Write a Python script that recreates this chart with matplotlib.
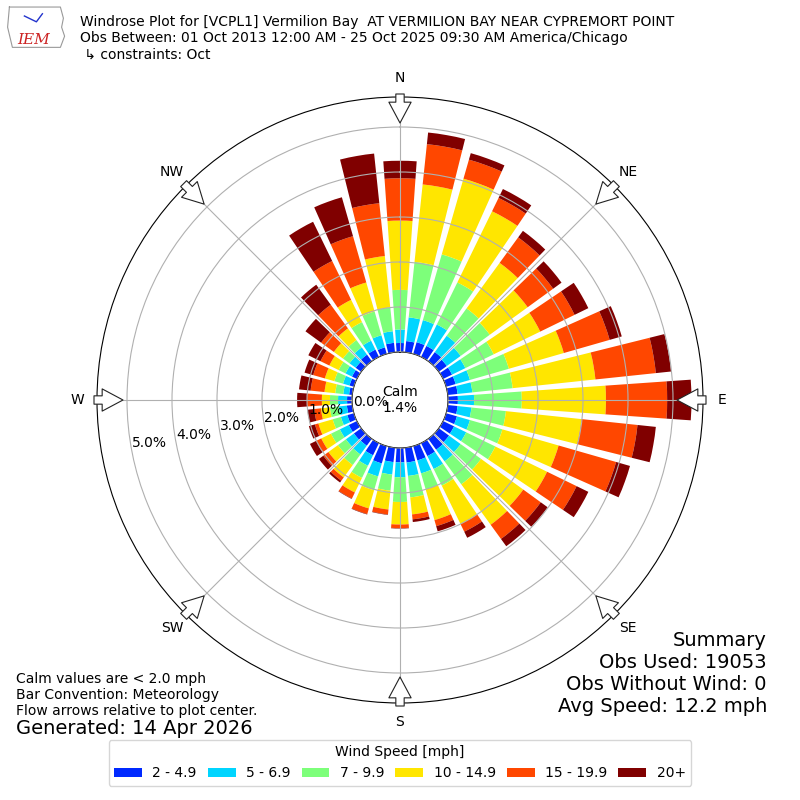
import numpy as np
import matplotlib
matplotlib.use("Agg")
import matplotlib.pyplot as plt

# direction bins (degrees, meteorological, centre of each 10 degree sector)
directions = list(range(0, 360, 10))

# frequency (%) for each speed bin, per direction
spd_2_5 = [0.20, 0.25, 0.27, 0.27, 0.25, 0.22, 0.22, 0.22, 0.22, 0.22,
           0.22, 0.25, 0.27, 0.28, 0.30, 0.32, 0.33, 0.33, 0.32,
           0.32, 0.40, 0.30, 0.19, 0.20, 0.20, 0.15, 0.12, 0.11,
           0.07, 0.10, 0.12, 0.15, 0.18, 0.18, 0.15, 0.21]
spd_5_7 = [0.30, 0.53, 0.51, 0.53, 0.45, 0.38, 0.33, 0.33, 0.33, 0.36,
           0.31, 0.30, 0.30, 0.32, 0.32, 0.32, 0.30, 0.30, 0.33,
           0.28, 0.30, 0.26, 0.24, 0.22, 0.22, 0.15, 0.18, 0.20,
           0.13, 0.15, 0.16, 0.17, 0.20, 0.22, 0.28, 0.26]
spd_7_10 = [0.88, 1.24, 1.52, 1.04, 0.75, 0.80, 0.70, 0.90, 0.90, 1.06,
            0.77, 0.75, 0.72, 0.56, 0.63, 0.41, 0.37, 0.48, 0.55,
            0.36, 0.32, 0.30, 0.29, 0.22, 0.22, 0.19, 0.20, 0.18,
            0.18, 0.20, 0.17, 0.18, 0.20, 0.46, 0.55, 0.53]
spd_10_15 = [1.54, 1.73, 1.75, 1.76, 1.25, 1.04, 1.15, 1.27, 1.85, 1.87,
             1.69, 1.30, 1.28, 1.16, 1.11, 0.95, 0.71, 0.38, 0.50,
             0.42, 0.42, 0.36, 0.34, 0.26, 0.24, 0.33, 0.20, 0.18,
             0.24, 0.22, 0.23, 0.25, 0.32, 0.55, 0.67, 1.15]
spd_15_20 = [0.94, 0.90, 0.44, 0.33, 0.70, 0.70, 0.85, 1.06, 1.35, 1.36,
             1.25, 1.33, 0.73, 0.48, 0.39, 0.19, 0.14, 0.11, 0.08,
             0.11, 0.13, 0.15, 0.09, 0.14, 0.13, 0.08, 0.15, 0.33,
             0.31, 0.27, 0.22, 0.35, 0.65, 0.96, 1.07, 1.18]
spd_20 = [0.39, 0.26, 0.15, 0.22, 0.18, 0.23, 0.34, 0.28, 0.34, 0.54,
          0.41, 0.32, 0.29, 0.19, 0.20, 0.15, 0.12, 0.06, 0.01,
          0.01, 0.01, 0.01, 0.05, 0.12, 0.15, 0.14, 0.15, 0.22,
          0.26, 0.20, 0.30, 0.43, 0.55, 0.97, 0.90, 1.11]

speed_labels = ["2 - 4.9", "5 - 6.9", "7 - 9.9", "10 - 14.9", "15 - 19.9", "20+"]
rticks = [0, 1, 2, 3, 4, 5]
compass = ["N", "NE", "E", "SE", "S", "SW", "W", "NW"]
calm_pct = 1.4

title_lines = [
    "Windrose Plot for [VCPL1] Vermilion Bay  AT VERMILION BAY NEAR CYPREMORT POINT",
    "Obs Between: 01 Oct 2013 12:00 AM - 25 Oct 2025 09:30 AM America/Chicago",
    " \u21b3 constraints: Oct",
]
notes = ["Calm values are < 2.0 mph", "Bar Convention: Meteorology",
         "Flow arrows relative to plot center."]
summary = ["Summary", "Obs Used: 19053", "Obs Without Wind: 0", "Avg Speed: 12.2 mph"]


def add_arrows(ax, rtail, rtip):
    # inward pointing flow arrows at the 8 compass points
    for deg in range(0, 360, 45):
        th = np.radians(deg)
        ax.annotate("", xy=(th, rtip), xytext=(th, rtail),
                    arrowprops=dict(arrowstyle="simple,head_length=0.75,head_width=0.8,tail_width=0.3",
                                    fc="white", ec="#222222", lw=0.8,
                                    shrinkA=0, shrinkB=0, mutation_scale=20),
                    annotation_clip=False, zorder=10)


fig = plt.figure(figsize=(8, 8), dpi=100)
ax = fig.add_axes([0.12125, 0.12125, 0.7575, 0.7575], projection="polar")
ax.set_theta_zero_location("N")
ax.set_theta_direction(-1)

series = [spd_2_5, spd_5_7, spd_7_10, spd_10_15, spd_15_20, spd_20]
colors = plt.get_cmap("jet")(np.linspace(0, 1, len(series) + 1)[1:])
theta = np.radians(directions)
width = np.radians(10) * 0.8

bottom = np.zeros(len(directions))
handles = []
for vals, col, lab in zip(series, colors, speed_labels):
    bars = ax.bar(theta, vals, width=width, bottom=bottom, color=col,
                  linewidth=0, label=lab, zorder=2)
    handles.append(bars)
    bottom = bottom + np.array(vals)

rmax = 255 / 45.0
ax.set_rorigin(-48 / 45.0)
ax.set_ylim(0, rmax)
ax.set_axisbelow(False)
ax.grid(True, color="#b0b0b0", lw=0.8, zorder=3)
ax.set_rgrids(rticks, labels=[f"{v:.1f}%" for v in rticks], angle=259.5, fontsize=10)
ax.set_thetagrids(range(0, 360, 45), labels=compass, fontsize=10)

add_arrows(ax, (306 - 48) / 45.0, (277 - 48) / 45.0)

ax.text(0.5, 0.5, f"Calm\n{calm_pct}%", transform=ax.transAxes,
        ha="center", va="center", fontsize=10, zorder=11)

# header
fig.text(80 / 800, 1 - 15 / 800, "\n".join(title_lines), ha="left", va="top", fontsize=10)

# small IEM logo stand-in
logo = fig.add_axes([0.008, 0.938, 0.075, 0.056])
logo.plot([0.05, 0.9, 0.95, 0.92, 0.97, 0.9, 0.1, 0.02, 0.05],
          [0.95, 0.95, 0.7, 0.5, 0.3, 0.05, 0.05, 0.5, 0.95], color="#999999", lw=0.8)
logo.plot([0.3, 0.5, 0.6], [0.75, 0.62, 0.8], color="#2233cc", lw=1)
logo.text(0.45, 0.22, "IEM", color="#cc2222", fontsize=11, style="italic",
          family="serif", ha="center", va="center")
logo.set_xlim(0, 1)
logo.set_ylim(0, 1)
logo.axis("off")

# notes lower left
fig.text(16 / 800, 1 - 672 / 800, "\n".join(notes), ha="left", va="top", fontsize=10)
fig.text(16 / 800, 1 - 719 / 800, "Generated: 14 Apr 2026", ha="left", va="top", fontsize=14)

# summary lower right, one text per line
for i, line in enumerate(summary):
    fig.text(767 / 800, 1 - (640 + 22 * i) / 800, line, ha="right", va="center", fontsize=14)

fig.legend(handles=handles, labels=speed_labels, loc="lower center",
           bbox_to_anchor=(0.5, 0.009), ncol=6, title="Wind Speed [mph]",
           fontsize=10, title_fontsize=10, columnspacing=0.8, handletextpad=0.75)

fig.savefig("out.png", dpi=100)
